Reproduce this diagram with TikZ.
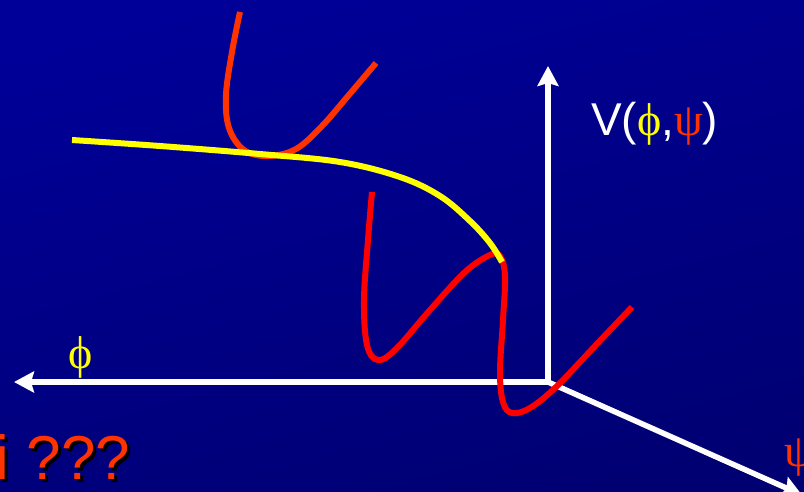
\documentclass[tikz,border=0pt]{standalone}
\usepackage{fontspec}
\setmainfont{Liberation Sans}
\newfontfamily\symfont{Liberation Serif}
\usepackage{tikz}
\usetikzlibrary{arrows.meta,positioning,calc}
\definecolor{bgtop}{HTML}{000099}
\definecolor{bgbot}{HTML}{000072}
\definecolor{vyellow}{HTML}{FFFF00}
\definecolor{vorange}{HTML}{FF3300}
\definecolor{vred}{HTML}{FF0000}
\tikzset{
  axisline/.style={white, line width=5.5pt, -{Stealth[length=20pt, width=21pt, inset=3pt]}},
  potcurve/.style={line width=6pt, line cap=butt},
  bigtext/.style={inner sep=0pt, font=\fontsize{46}{50}\selectfont},
}
\begin{document}
\begin{tikzpicture}[x=1pt, y=-1pt]
\useasboundingbox (0,0) rectangle (804,491);
\clip (0,0) rectangle (804,491);
\shade[top color=bgtop, bottom color=bgbot, shading angle=15] (-20,-20) rectangle (824,511);
% axes
\coordinate (O) at (548,382);
\coordinate (vtip) at (548,66);
\coordinate (phitip) at (14,382);
\coordinate (psitip) at (802,495);
\draw[axisline] (O) -- (vtip);
\draw[axisline] (O) -- (phitip);
\draw[axisline] (O) -- (psitip);
% the two wells
\draw[potcurve, vorange] plot[smooth, tension=0.6] coordinates {(240,12) (232,52) (226,95) (229,128) (244,150) (268,156) (296,149) (322,126) (348,96) (376,63)};
\draw[potcurve, vred] plot[smooth, tension=0.6] coordinates {(372,192) (368,240) (364,300) (367,345) (378,360) (396,349) (430,310) (465,272) (490,255) (500,256) (505,276) (503,320) (500,372) (503,402) (512,413) (530,408) (556,387) (595,346) (632,307)};
% valley floor
\draw[potcurve, vyellow] plot[smooth, tension=0.6] coordinates {(72,140) (160,146) (260,154) (340,162) (400,177) (440,196) (470,221) (490,243) (502,262)};
% labels
\node[bigtext, anchor=base west, white] (vlabel) at (591,135) {V(\textcolor{vyellow}{\symfont ϕ},\textcolor{vorange}{\symfont ψ})};
\node[bigtext, anchor=base, vyellow] (philabel) at (81,368) {\symfont ϕ};
\node[bigtext, anchor=base west, vorange] (psilabel) at (784,466) {\symfont ψ};
\node[inner sep=0pt, anchor=base west, black, font=\fontsize{62}{66}\selectfont] (questshadow) at (-1.6,482) {i ???};
\node[inner sep=0pt, anchor=base west, vorange, font=\fontsize{62}{66}\selectfont] (quest) at (-4.6,479) {i ???};
\end{tikzpicture}
\end{document}
